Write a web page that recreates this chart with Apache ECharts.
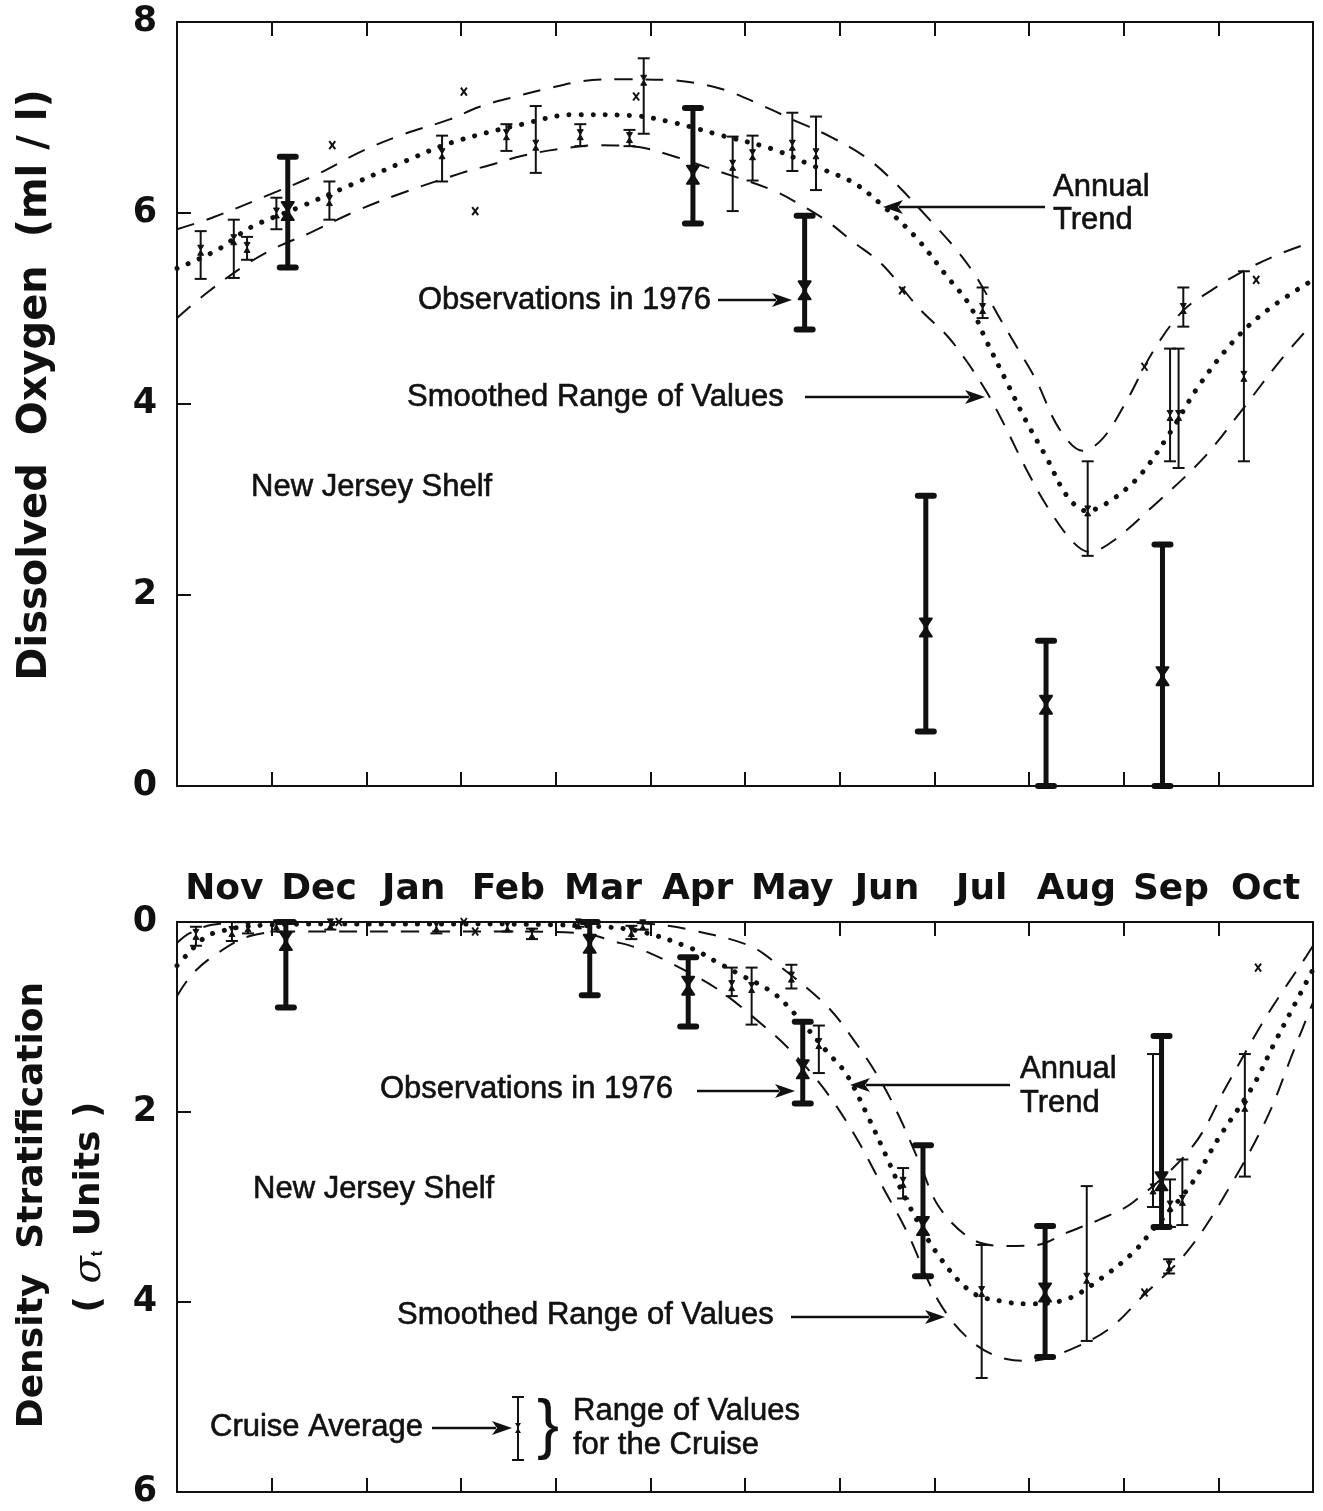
<!DOCTYPE html>
<html>
<head>
<meta charset="utf-8">
<title>Dissolved Oxygen and Density Stratification - New Jersey Shelf</title>
<script src="https://cdn.jsdelivr.net/npm/echarts/dist/echarts.min.js"></script>
<style>
  html, body { margin: 0; padding: 0; background: #fff; }
  #chart { width: 1323px; height: 1511px; }
</style>
</head>
<body>
<div id="chart"></div>
<script>
// x positions are in months counted from 1 November
var months = ['Nov', 'Dec', 'Jan', 'Feb', 'Mar', 'Apr', 'May', 'Jun', 'Jul', 'Aug', 'Sep', 'Oct'];

// ---- Dissolved oxygen (ml/l) ----
// cruise averages with range of values
var oxyCruiseX    = [0.25, 0.60, 0.74, 1.05, 1.61, 2.80, 3.48, 3.79, 4.26, 4.78, 4.93, 5.87, 6.08, 6.50, 6.75, 8.51, 9.62, 10.49, 10.58, 10.63, 11.27];
var oxyCruiseMean = [5.61, 5.72, 5.64, 6.00, 6.13, 6.62, 6.82, 6.71, 6.82, 6.79, 7.39, 6.50, 6.61, 6.71, 6.62, 5.00, 2.88, 3.88, 3.88, 5.00, 4.29];
var oxyCruiseLow  = [5.31, 5.32, 5.51, 5.83, 5.93, 6.33, 6.65, 6.42, 6.70, 6.70, 6.83, 6.02, 6.34, 6.44, 6.24, 4.90, 2.41, 3.40, 3.33, 4.81, 3.40];
var oxyCruiseHigh = [5.81, 5.93, 5.75, 6.16, 6.33, 6.81, 6.93, 7.12, 6.93, 6.87, 7.62, 6.80, 6.81, 7.05, 7.01, 5.22, 3.40, 4.58, 4.58, 5.22, 5.39];
// observations in 1976
var oxy76X    = [1.17, 5.45, 6.63, 7.91, 9.18, 10.41];
var oxy76Mean = [6.02, 6.40, 5.19, 1.66, 0.85, 1.15];
var oxy76Low  = [5.43, 5.89, 4.78, 0.57, 0.00, 0.00];
var oxy76High = [6.59, 7.10, 5.97, 3.04, 1.52, 2.53];
// single values (no range)
var oxySingleX   = [1.64, 3.03, 3.15, 4.85, 7.66, 10.22, 11.40];
var oxySingleVal = [6.71, 7.27, 6.02, 7.22, 5.19, 4.39, 5.30];
// annual trend
var oxyTrendX = [0, 0.42, 0.78, 1.29, 1.85, 2.38, 2.91, 3.65, 4.18, 4.81, 5.23, 5.76, 6.29, 6.68, 7.14, 7.45, 7.81, 8.13, 8.37, 8.55, 8.76, 8.97, 9.19, 9.40, 9.61, 9.85, 10.17, 10.49, 10.80, 11.19, 11.54, 12];
var oxyTrend  = [5.42, 5.61, 5.85, 6.06, 6.30, 6.53, 6.74, 6.93, 7.03, 7.02, 6.95, 6.81, 6.67, 6.51, 6.32, 6.08, 5.74, 5.34, 5.04, 4.66, 4.24, 3.82, 3.43, 3.04, 2.88, 2.98, 3.25, 3.70, 4.20, 4.69, 5.00, 5.30];
// smoothed range of values
var oxyUpperX = [0, 0.37, 0.97, 1.47, 1.96, 2.38, 2.88, 3.19, 3.54, 3.90, 4.28, 4.67, 5.23, 5.59, 5.84, 6.15, 6.50, 6.92, 7.28, 7.56, 7.95, 8.23, 8.45, 8.69, 8.90, 9.08, 9.32, 9.57, 9.78, 10.03, 10.31, 10.62, 10.91, 11.26, 11.62, 12];
var oxyUpper  = [5.83, 5.95, 6.19, 6.40, 6.65, 6.82, 6.98, 7.11, 7.21, 7.30, 7.38, 7.40, 7.39, 7.34, 7.27, 7.14, 6.98, 6.79, 6.58, 6.34, 5.93, 5.62, 5.32, 4.90, 4.55, 4.24, 3.74, 3.51, 3.64, 4.03, 4.55, 4.97, 5.18, 5.39, 5.56, 5.70];
var oxyLowerX = [0, 0.31, 0.73, 1.05, 1.40, 1.89, 2.38, 3.01, 3.30, 3.65, 4.04, 4.46, 4.88, 5.23, 5.59, 6.29, 6.58, 6.86, 7.14, 7.45, 7.84, 8.13, 8.34, 8.55, 8.72, 8.97, 9.19, 9.46, 9.64, 9.88, 10.31, 10.84, 11.26, 11.65, 12];
var oxyLower  = [4.90, 5.16, 5.46, 5.64, 5.79, 6.02, 6.21, 6.42, 6.50, 6.60, 6.67, 6.71, 6.69, 6.60, 6.48, 6.24, 6.09, 5.92, 5.70, 5.46, 5.00, 4.72, 4.45, 4.13, 3.82, 3.32, 2.93, 2.56, 2.45, 2.56, 2.93, 3.43, 3.95, 4.45, 4.85];

// ---- Density stratification (sigma-t units) ----
var denCruiseX    = [0.20, 0.58, 0.75, 1.05, 1.62, 2.74, 3.49, 3.75, 4.24, 4.80, 4.92, 5.86, 6.07, 6.49, 6.78, 7.67, 8.50, 9.61, 10.31, 10.48, 10.49, 10.62, 11.28];
var denCruiseMean = [0.13, 0.10, 0.05, 0.03, 0.02, 0.05, 0.05, 0.12, 0.02, 0.10, 0.03, 0.67, 0.69, 0.58, 1.28, 2.74, 3.89, 3.75, 2.81, 3.62, 2.99, 2.93, 1.94];
var denCruiseLow  = [0.05, 0.00, 0.00, 0.00, 0.00, 0.00, 0.00, 0.07, 0.00, 0.04, 0.00, 0.48, 0.48, 0.45, 1.09, 2.59, 3.40, 2.78, 1.39, 3.55, 2.71, 2.50, 1.39];
var denCruiseHigh = [0.25, 0.20, 0.12, 0.10, 0.08, 0.12, 0.10, 0.18, 0.05, 0.18, 0.08, 0.78, 1.08, 0.70, 1.59, 2.91, 4.80, 4.41, 3.00, 3.70, 3.21, 3.19, 2.68];
var den76X    = [1.15, 4.36, 5.40, 6.61, 7.88, 9.17, 10.40];
var den76Mean = [0.20, 0.23, 0.67, 1.55, 3.20, 3.90, 2.73];
var den76Low  = [0.00, 0.00, 0.37, 1.05, 2.35, 3.20, 1.20];
var den76High = [0.90, 0.77, 1.10, 1.91, 3.73, 4.58, 3.21];
var denSingleX   = [1.71, 3.03, 3.15, 10.22, 11.42];
var denSingleVal = [0.00, 0.00, 0.10, 3.90, 0.48];
var denTrendX = [0, 0.11, 0.31, 0.46, 0.63, 1.0, 2.0, 3.0, 4.0, 4.5, 4.9, 5.44, 5.70, 5.94, 6.29, 6.50, 6.87, 7.07, 7.31, 7.49, 7.70, 8.03, 8.40, 8.76, 9.0, 9.4, 9.75, 10.1, 10.3, 10.7, 11.0, 11.37, 11.58, 11.8, 12];
var denTrend  = [0.46, 0.34, 0.15, 0.10, 0.06, 0.03, 0.02, 0.02, 0.03, 0.05, 0.10, 0.28, 0.42, 0.55, 0.74, 0.94, 1.37, 1.60, 2.07, 2.46, 2.92, 3.49, 3.90, 4.00, 4.02, 3.97, 3.76, 3.48, 3.25, 2.78, 2.28, 1.72, 1.30, 0.88, 0.50];
var denUpperX = [0, 0.13, 0.37, 0.76, 1.5, 2.5, 3.5, 4.5, 5.0, 5.41, 6.05, 6.36, 6.86, 7.14, 7.42, 7.63, 7.85, 8.05, 8.40, 8.76, 9.08, 9.40, 9.75, 10.10, 10.73, 11.09, 11.51, 11.93, 12];
var denUpper  = [0.22, 0.12, 0.03, 0.00, 0.00, 0.00, 0.00, 0.00, 0.02, 0.08, 0.25, 0.46, 0.88, 1.23, 1.65, 2.05, 2.55, 3.00, 3.34, 3.41, 3.40, 3.27, 3.13, 2.95, 2.36, 1.72, 0.99, 0.36, 0.25];
var denLowerX = [0, 0.16, 0.41, 0.76, 1.2, 2.5, 3.5, 4.3, 4.6, 4.88, 5.23, 5.70, 6.05, 6.47, 6.86, 7.18, 7.45, 7.71, 8.05, 8.40, 8.76, 9.03, 9.46, 9.85, 10.20, 10.67, 11.09, 11.51, 11.79, 11.97, 12];
var denLower  = [0.78, 0.55, 0.34, 0.15, 0.10, 0.10, 0.10, 0.12, 0.20, 0.28, 0.44, 0.70, 0.97, 1.34, 1.79, 2.28, 2.78, 3.26, 4.00, 4.42, 4.60, 4.62, 4.49, 4.28, 3.94, 3.47, 2.84, 2.07, 1.37, 0.92, 0.85];

var ink = '#111';
var axisFont = 'DejaVu Sans';
var noteFont = 'Liberation Sans';

function pairs(xs, ys) {
  return xs.map(function (x, i) { return [x, ys[i]]; });
}
function bars(xs, mean, lo, hi) {
  return xs.map(function (x, i) { return [x, mean[i], lo[i], hi[i]]; });
}

// thin bar: range of values for a cruise, small bow-tie at the average
function renderCruise(params, api) {
  var m = api.coord([api.value(0), api.value(1)]);
  var lo = api.coord([api.value(0), api.value(2)]);
  var hi = api.coord([api.value(0), api.value(3)]);
  var x = m[0], w = 6;
  var st = { stroke: ink, lineWidth: 2 };
  return {
    type: 'group',
    children: [
      { type: 'line', shape: { x1: x, y1: lo[1], x2: x, y2: hi[1] }, style: st },
      { type: 'line', shape: { x1: x - w, y1: lo[1], x2: x + w, y2: lo[1] }, style: st },
      { type: 'line', shape: { x1: x - w, y1: hi[1], x2: x + w, y2: hi[1] }, style: st },
      { type: 'polygon', shape: { points: [[x - 3, m[1] - 5], [x + 3, m[1] - 5], [x - 3, m[1] + 5], [x + 3, m[1] + 5]] },
        style: { fill: ink, stroke: ink, lineWidth: 1 } }
    ]
  };
}

// heavy bar: 1976 observations
function render1976(params, api) {
  var m = api.coord([api.value(0), api.value(1)]);
  var lo = api.coord([api.value(0), api.value(2)]);
  var hi = api.coord([api.value(0), api.value(3)]);
  var x = m[0];
  return {
    type: 'group',
    children: [
      { type: 'line', shape: { x1: x, y1: lo[1], x2: x, y2: hi[1] }, style: { stroke: ink, lineWidth: 5 } },
      { type: 'rect', shape: { x: x - 11, y: lo[1] - 3, width: 22, height: 6, r: 3 }, style: { fill: ink } },
      { type: 'rect', shape: { x: x - 11, y: hi[1] - 3, width: 22, height: 6, r: 3 }, style: { fill: ink } },
      { type: 'polygon', shape: { points: [[x - 6, m[1] - 9], [x + 6, m[1] - 9], [x - 6, m[1] + 9], [x + 6, m[1] + 9]] },
        style: { fill: ink, stroke: ink, lineWidth: 2, lineJoin: 'round' } }
    ]
  };
}

// lone 'x' for a single value
function renderSingle(params, api) {
  var p = api.coord([api.value(0), api.value(1)]);
  var st = { stroke: ink, lineWidth: 2 };
  return {
    type: 'group',
    children: [
      { type: 'line', shape: { x1: p[0] - 3, y1: p[1] - 4, x2: p[0] + 3, y2: p[1] + 4 }, style: st },
      { type: 'line', shape: { x1: p[0] + 3, y1: p[1] - 4, x2: p[0] - 3, y2: p[1] + 4 }, style: st }
    ]
  };
}

function dashed(xs, ys, xi, yi) {
  return {
    type: 'line', xAxisIndex: xi, yAxisIndex: yi, data: pairs(xs, ys),
    smooth: 0.35, symbol: 'none', silent: true,
    lineStyle: { color: ink, width: 2, type: [18, 13] }
  };
}
function dotted(xs, ys, xi, yi) {
  return {
    type: 'line', xAxisIndex: xi, yAxisIndex: yi, data: pairs(xs, ys),
    smooth: 0.35, symbol: 'none', silent: true,
    lineStyle: { color: ink, width: 5, type: [0.1, 12], cap: 'round' }
  };
}
function custom(render, data, xi, yi) {
  return { type: 'custom', xAxisIndex: xi, yAxisIndex: yi, renderItem: render, data: data, silent: true, clip: false, z: 5 };
}

function note(x, y, s) {
  return { type: 'text', x: x, y: y, z: 10,
    style: { text: s, fill: ink, stroke: ink, lineWidth: 0.6, fontSize: 31, fontFamily: noteFont,
             align: 'left', verticalAlign: 'middle', textAlign: 'left', textVerticalAlign: 'middle' } };
}
function arrow(x1, y1, x2, y2) {
  var a = Math.atan2(y2 - y1, x2 - x1), L = 20, H = 7;
  var bx = x2 - L * Math.cos(a), by = y2 - L * Math.sin(a);
  var nx = -Math.sin(a) * H, ny = Math.cos(a) * H;
  return [
    { type: 'line', z: 10, shape: { x1: x1, y1: y1, x2: bx + 4 * Math.cos(a), y2: by + 4 * Math.sin(a) }, style: { stroke: ink, lineWidth: 2.5 } },
    { type: 'polygon', z: 10, shape: { points: [[x2, y2], [bx + nx, by + ny], [bx + 5 * Math.cos(a), by + 5 * Math.sin(a)], [bx - nx, by - ny]] }, style: { fill: ink } }
  ];
}

var graphics = [
  // axis titles
  { type: 'text', x: 36, y: 385, rotation: Math.PI / 2,
    style: { text: 'Dissolved  Oxygen  (ml / l)', fill: ink, fontSize: 40, fontWeight: 'bold', fontFamily: axisFont,
             align: 'center', verticalAlign: 'middle', textAlign: 'center', textVerticalAlign: 'middle' } },
  { type: 'text', x: 33, y: 1205, rotation: Math.PI / 2,
    style: { text: 'Density  Stratification', fill: ink, fontSize: 36, fontWeight: 'bold', fontFamily: axisFont,
             align: 'center', verticalAlign: 'middle', textAlign: 'center', textVerticalAlign: 'middle' } },
  { type: 'text', x: 90, y: 1207, rotation: Math.PI / 2,
    style: { text: '( {s|σ}{t|t} Units )', fill: ink, fontSize: 36, fontWeight: 'bold', fontFamily: axisFont,
             align: 'center', verticalAlign: 'middle', textAlign: 'center', textVerticalAlign: 'middle',
             rich: { s: { fontSize: 40, fontStyle: 'italic', fontFamily: 'DejaVu Serif', fill: ink },
                     t: { fontSize: 16, fontWeight: 'bold', fill: ink, padding: [16, 2, 0, 0] } } } },

  // top panel notes
  note(1053, 187, 'Annual'), note(1053, 220, 'Trend'),
  note(418, 300, 'Observations in 1976'),
  note(407, 397, 'Smoothed Range of Values'),
  note(251, 487, 'New Jersey Shelf'),
  // bottom panel notes
  note(380, 1089, 'Observations in 1976'),
  note(1020, 1069, 'Annual'), note(1020, 1103, 'Trend'),
  note(253, 1189, 'New Jersey Shelf'),
  note(397, 1315, 'Smoothed Range of Values'),
  // key
  note(210, 1427, 'Cruise Average'),
  note(573, 1411, 'Range of Values'),
  note(573, 1445, 'for the Cruise'),
  { type: 'text', x: 548, y: 1428, z: 10,
    style: { text: '}', fill: ink, fontSize: 66, fontFamily: noteFont, align: 'center', verticalAlign: 'middle',
             textAlign: 'center', textVerticalAlign: 'middle' } },
  { type: 'line', z: 10, shape: { x1: 518, y1: 1397, x2: 518, y2: 1460 }, style: { stroke: ink, lineWidth: 2 } },
  { type: 'line', z: 10, shape: { x1: 512, y1: 1397, x2: 524, y2: 1397 }, style: { stroke: ink, lineWidth: 2 } },
  { type: 'line', z: 10, shape: { x1: 512, y1: 1460, x2: 524, y2: 1460 }, style: { stroke: ink, lineWidth: 2 } },
  { type: 'polygon', z: 10, shape: { points: [[515, 1423], [521, 1423], [515, 1433], [521, 1433]] }, style: { fill: ink } }
];
graphics = graphics
  .concat(arrow(1045, 207, 883, 207))
  .concat(arrow(718, 300, 792, 300))
  .concat(arrow(805, 397, 985, 397))
  .concat(arrow(697, 1091, 795, 1091))
  .concat(arrow(1010, 1085, 850, 1085))
  .concat(arrow(791, 1317, 945, 1317))
  .concat(arrow(432, 1428, 512, 1428));

function valueX(grid, pos) {
  return {
    type: 'value', gridIndex: grid, position: pos, min: 0, max: 12, interval: 1,
    axisLine: { show: true, onZero: false, lineStyle: { color: ink, width: 2 } },
    axisTick: { show: true, inside: true, length: 14, lineStyle: { color: ink, width: 2 } },
    axisLabel: { show: false }, splitLine: { show: false }
  };
}
function valueY(grid, max, inverse) {
  return {
    type: 'value', gridIndex: grid, min: 0, max: max, interval: 2, inverse: inverse,
    axisLine: { show: true, onZero: false, lineStyle: { color: ink, width: 2 } },
    axisTick: { show: true, inside: true, length: 14, lineStyle: { color: ink, width: 2 } },
    axisLabel: { color: ink, fontSize: 35, fontWeight: 'bold', fontFamily: axisFont, margin: 20 },
    splitLine: { show: false }
  };
}

var chart = echarts.init(document.getElementById('chart'), null, { renderer: 'canvas' });
chart.setOption({
  animation: false,
  backgroundColor: '#fff',
  grid: [
    { left: 177, top: 22, width: 1136, height: 764, show: true, borderColor: ink, borderWidth: 2 },
    { left: 177, top: 922, width: 1136, height: 570, show: true, borderColor: ink, borderWidth: 2 }
  ],
  xAxis: [
    valueX(0, 'bottom'),
    valueX(0, 'top'),
    valueX(1, 'bottom'),
    valueX(1, 'top'),
    {
      type: 'category', gridIndex: 1, position: 'top', data: months, boundaryGap: true,
      axisLine: { show: false }, axisTick: { show: false }, splitLine: { show: false },
      axisLabel: { interval: 0, color: ink, fontSize: 36, fontWeight: 'bold', fontFamily: axisFont, margin: 14 }
    }
  ],
  yAxis: [
    valueY(0, 8, false),
    valueY(1, 6, true)
  ],
  series: [
    dashed(oxyUpperX, oxyUpper, 0, 0),
    dashed(oxyLowerX, oxyLower, 0, 0),
    dotted(oxyTrendX, oxyTrend, 0, 0),
    custom(renderCruise, bars(oxyCruiseX, oxyCruiseMean, oxyCruiseLow, oxyCruiseHigh), 0, 0),
    custom(render1976, bars(oxy76X, oxy76Mean, oxy76Low, oxy76High), 0, 0),
    custom(renderSingle, pairs(oxySingleX, oxySingleVal), 0, 0),

    dashed(denUpperX, denUpper, 2, 1),
    dashed(denLowerX, denLower, 2, 1),
    dotted(denTrendX, denTrend, 2, 1),
    custom(renderCruise, bars(denCruiseX, denCruiseMean, denCruiseLow, denCruiseHigh), 2, 1),
    custom(render1976, bars(den76X, den76Mean, den76Low, den76High), 2, 1),
    custom(renderSingle, pairs(denSingleX, denSingleVal), 2, 1)
  ],
  graphic: graphics
});
</script>
</body>
</html>
